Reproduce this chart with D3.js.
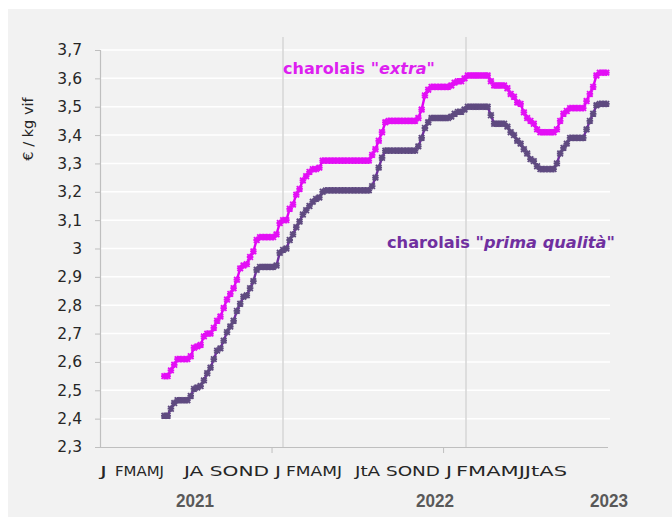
<!DOCTYPE html>
<html><head><meta charset="utf-8">
<script src="https://cdn.jsdelivr.net/npm/d3@7"></script>
<style>body{margin:0;background:#fff}svg{display:block}</style>
</head><body>
<svg id="c" width="672" height="520"></svg>
<script>
// weekly prices (€/kg vif), first value = week index 19 from Jan 2021
const firstWeek = 19;
const extra = [
 2.55,2.55,2.57,2.59,2.61,2.61,2.61,2.61,2.62,2.65,
 2.655,2.66,2.69,2.70,2.70,2.72,2.745,2.76,2.79,2.82,
 2.84,2.86,2.89,2.93,2.94,2.945,2.97,2.99,3.03,3.04,
 3.04,3.04,3.04,3.04,3.05,3.09,3.10,3.10,3.14,3.155,
 3.19,3.21,3.24,3.255,3.27,3.28,3.28,3.285,3.31,3.31,
 3.31,3.31,3.31,3.31,3.31,3.31,3.31,3.31,3.31,3.31,
 3.31,3.31,3.31,3.33,3.35,3.38,3.41,3.445,3.45,3.45,
 3.45,3.45,3.45,3.45,3.45,3.45,3.45,3.46,3.49,3.54,
 3.56,3.57,3.57,3.57,3.57,3.57,3.57,3.575,3.585,3.59,
 3.59,3.60,3.61,3.61,3.61,3.61,3.61,3.61,3.61,3.59,
 3.575,3.575,3.575,3.575,3.565,3.545,3.535,3.515,3.51,3.48,
 3.46,3.45,3.44,3.42,3.41,3.41,3.41,3.41,3.41,3.42,
 3.45,3.475,3.485,3.495,3.495,3.495,3.495,3.495,3.52,3.545,
 3.57,3.61,3.62,3.62,3.62];
const prima = [
 2.41,2.41,2.435,2.455,2.465,2.465,2.465,2.465,2.48,2.505,
 2.51,2.515,2.535,2.56,2.58,2.61,2.64,2.648,2.675,2.705,
 2.725,2.745,2.78,2.805,2.83,2.835,2.86,2.885,2.925,2.935,
 2.935,2.935,2.935,2.935,2.94,2.985,2.995,3.0,3.03,3.05,
 3.075,3.095,3.12,3.135,3.15,3.165,3.175,3.18,3.2,3.205,
 3.205,3.205,3.205,3.205,3.205,3.205,3.205,3.205,3.205,3.205,
 3.205,3.205,3.205,3.22,3.25,3.285,3.32,3.345,3.345,3.345,
 3.345,3.345,3.345,3.345,3.345,3.345,3.345,3.36,3.39,3.425,
 3.445,3.46,3.46,3.46,3.46,3.46,3.46,3.465,3.475,3.482,
 3.482,3.49,3.50,3.50,3.50,3.50,3.50,3.50,3.50,3.47,
 3.44,3.44,3.44,3.44,3.43,3.41,3.40,3.38,3.37,3.35,
 3.335,3.315,3.308,3.29,3.28,3.28,3.28,3.28,3.28,3.30,
 3.335,3.355,3.37,3.39,3.39,3.39,3.39,3.39,3.42,3.45,
 3.475,3.505,3.51,3.51,3.51];
const yTicks = [2.3,2.4,2.5,2.6,2.7,2.8,2.9,3.0,3.1,3.2,3.3,3.4,3.5,3.6,3.7];
const monthChunks = ["J","FMAMJ","JA SOND","J","FMAMJ","JtA SOND","J","FMAMJJtAS"];
const years = ["2021","2022","2023"];
const seriesNames = ['charolais "', 'extra', '"', 'prima qualità'];

const svg = d3.select("#c");
const W = 672, H = 520;
svg.append("rect").attr("x",8).attr("y",9).attr("width",W-8).attr("height",508).attr("fill","#f2f2f2");

const totalWeeks = 154;
const x = d3.scaleLinear().domain([0,totalWeeks]).range([100,608]);
const y = d3.scaleLinear().domain([2.3,3.7]).range([447,50]);
const font = "'DejaVu Sans', sans-serif";

// gridlines
svg.append("g").selectAll("line").data(yTicks.slice(1)).join("line")
  .attr("x1",100).attr("x2",610).attr("y1",d=>y(d)).attr("y2",d=>y(d))
  .attr("stroke","#ffffff").attr("stroke-width",1.5);

// vertical january markers
[283,466].forEach(px=>{
  svg.append("line").attr("x1",px).attr("x2",px).attr("y1",37).attr("y2",447)
    .attr("stroke","#d6d6d6").attr("stroke-width",1.5);
});

// y axis
const yAxis = d3.axisLeft(y).tickValues(yTicks).tickSize(5).tickPadding(13)
  .tickFormat(d=>d3.format(".1f")(d).replace(".0","").replace(".",","));
const gy = svg.append("g").attr("transform","translate(100,0)").call(yAxis);
gy.select(".domain").attr("stroke","#bfbfbf").attr("stroke-width",1.2);
gy.selectAll(".tick line").attr("stroke","#bfbfbf");
gy.selectAll("text").attr("font-family",font).attr("font-size",15.5).attr("fill","#262626");

// x axis
const xAxis = d3.axisBottom(x).tickValues([52,104]).tickSize(6).tickFormat("");
const gx = svg.append("g").attr("transform","translate(0,447)").call(xAxis);
gx.select(".domain").attr("stroke","#bfbfbf").attr("stroke-width",1.2).attr("d","M100,0.5H608");
gx.selectAll(".tick line").attr("stroke","#bfbfbf");

// month label chunks
const chunkPos = [[100,107],[115,164],[184,269],[275,281],[286,342],[355,440],[446,452],[456,567]];
monthChunks.forEach((t,i)=>{
  svg.append("text").attr("x",chunkPos[i][0]).attr("y",476)
    .attr("font-family","'DejaVu Sans Condensed','DejaVu Sans',sans-serif").attr("font-size",14.5)
    .attr("fill","#262626").attr("textLength",chunkPos[i][1]-chunkPos[i][0])
    .attr("lengthAdjust","spacingAndGlyphs").text(t);
});
// years
const yearX = [195,435,609];
years.forEach((t,i)=>{
  svg.append("text").attr("x",yearX[i]).attr("y",507).attr("text-anchor","middle")
    .attr("font-family","'Liberation Sans',Arial,sans-serif").attr("font-weight","bold")
    .attr("font-size",18).attr("fill","#595959").attr("textLength",38)
    .attr("lengthAdjust","spacingAndGlyphs").text(t);
});

// y title
svg.append("text").attr("transform","translate(33,129) rotate(-90)").attr("text-anchor","middle")
  .attr("font-family",font).attr("font-size",14.5).attr("fill","#262626").text("€ / kg vif");

// lines
const line = d3.line().x((d,i)=>x(firstWeek+i+0.5)).y(d=>y(d));
const star = "M-2.8,-2.8L2.8,2.8M-2.8,2.8L2.8,-2.8M0,-3.3L0,3.3M-3.3,0L3.3,0";
function drawSeries(data, lineColor, markColor){
  svg.append("path").datum(data).attr("d",line).attr("fill","none")
    .attr("stroke",lineColor).attr("stroke-width",2.4);
  svg.append("g").selectAll("path").data(data).join("path")
    .attr("transform",(d,i)=>`translate(${x(firstWeek+i+0.5)},${y(d)})`)
    .attr("d",star).attr("fill","none").attr("stroke",markColor).attr("stroke-width",1.8);
}
drawSeries(extra,"#e000f4","#e30ff5");
drawSeries(prima,"#7030a0","#5f4a80");

// series labels
const t1 = svg.append("text").attr("x",283).attr("y",74).attr("font-family",font)
  .attr("font-weight","bold").attr("font-size",15.5).attr("fill","#dd1ff0")
  .attr("textLength",152).attr("lengthAdjust","spacingAndGlyphs");
t1.append("tspan").text(seriesNames[0]);
t1.append("tspan").attr("font-style","italic").text(seriesNames[1]);
t1.append("tspan").text(seriesNames[2]);
const t2 = svg.append("text").attr("x",387).attr("y",248).attr("font-family",font)
  .attr("font-weight","bold").attr("font-size",15.5).attr("fill","#7030a0")
  .attr("textLength",228).attr("lengthAdjust","spacingAndGlyphs");
t2.append("tspan").text(seriesNames[0]);
t2.append("tspan").attr("font-style","italic").text(seriesNames[3]);
t2.append("tspan").text(seriesNames[2]);
</script>
</body></html>
